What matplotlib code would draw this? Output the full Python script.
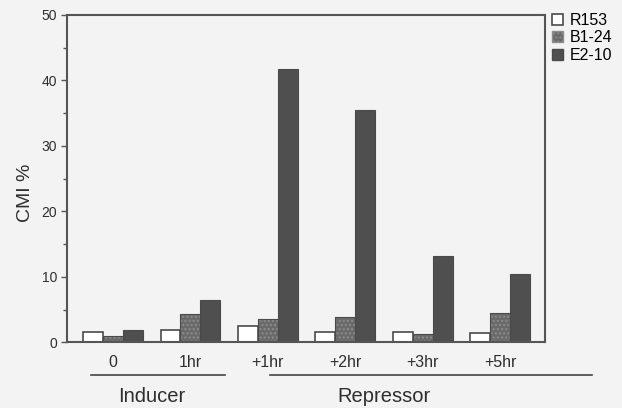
import matplotlib
matplotlib.use("Agg")
import matplotlib.pyplot as plt
import numpy as np
from matplotlib.patches import Patch
from matplotlib.ticker import MultipleLocator
import matplotlib.transforms as mtrans

plt.rcParams['font.family'] = ['Liberation Sans', 'DejaVu Sans']

categories = ["0", "1hr", "+1hr", "+2hr", "+3hr", "+5hr"]
series_names = ["R153", "B1-24", "E2-10"]
r153 = [1.5, 1.9, 2.5, 1.6, 1.5, 1.4]
b124 = [1.0, 4.3, 3.5, 3.9, 1.3, 4.5]
e210 = [1.9, 6.4, 41.8, 35.5, 13.2, 10.5]
y_ticks = [0, 10, 20, 30, 40, 50]
group_labels = ["Inducer", "Repressor"]

bg = "#f3f3f3"
edge = "#4a4a4a"
txt = "#2e2e2e"
fig = plt.figure(figsize=(6.22, 4.08), dpi=100, facecolor=bg)
ax = fig.add_axes([67/622, 1-342.3/408, (545-67)/622, (342.3-15)/408])
ax.set_facecolor(bg)

x = np.arange(len(categories))
w = 0.258
ax.bar(x - w, r153, w, color="white", edgecolor=edge, linewidth=1.2)
ax.bar(x, b124, w, color="#6a6a6a", edgecolor="#8c8c8c", hatch="....", linewidth=0.6)
ax.bar(x, b124, w, color="none", edgecolor=edge, linewidth=0.8)
ax.bar(x + w, e210, w, color="#4f4f4f", edgecolor=edge, linewidth=0.8)

ax.set_xlim(-0.595, 5.58)
ax.set_ylim(0, 50)
ax.set_yticks(y_ticks)
ax.yaxis.set_minor_locator(MultipleLocator(5))
ax.set_xticks(x)
ax.set_xticklabels(categories, fontsize=11.5, color=txt)
ax.tick_params(axis='x', length=0, pad=9)
ax.tick_params(axis='y', which='major', length=4, width=1, color="#555555", labelsize=10, labelcolor=txt, pad=3)
ax.tick_params(axis='y', which='minor', length=3, width=1, color="#555555")
for s in ax.spines.values():
    s.set_color("#555555")
    s.set_linewidth(1.5)
ax.set_ylabel("CMI %", fontsize=14, color=txt)
ax.yaxis.set_label_coords(-(67-34)/478, 1 - (192.5-15)/327.3)

# group underlines and labels
trans = mtrans.blended_transform_factory(ax.transData, fig.transFigure)
yl = 1 - 375/408
ax.plot([-0.29, 1.45], [yl, yl], color="#444444", lw=1.2, transform=trans, clip_on=False)
ax.plot([2.03, 6.19], [yl, yl], color="#444444", lw=1.2, transform=trans, clip_on=False)
yt = 1 - 396/408
ax.text(0.5, yt, group_labels[0], transform=trans, ha='center', va='center', fontsize=14.5, color=txt)
ax.text(3.5, yt, group_labels[1], transform=trans, ha='center', va='center', fontsize=14.5, color=txt)

handles = [Patch(facecolor="white", edgecolor=edge, linewidth=1.2),
           Patch(facecolor="#6a6a6a", edgecolor="#8c8c8c", hatch="...."),
           Patch(facecolor="#4f4f4f", edgecolor=edge)]
fig.legend(handles, series_names, loc='upper left', bbox_to_anchor=(552/622, 1-13/408),
           frameon=False, handlelength=0.7, handleheight=0.7, handletextpad=0.4,
           labelspacing=0.15, fontsize=11.5, borderpad=0, borderaxespad=0)

fig.savefig("out.png", dpi=100, facecolor=bg)
